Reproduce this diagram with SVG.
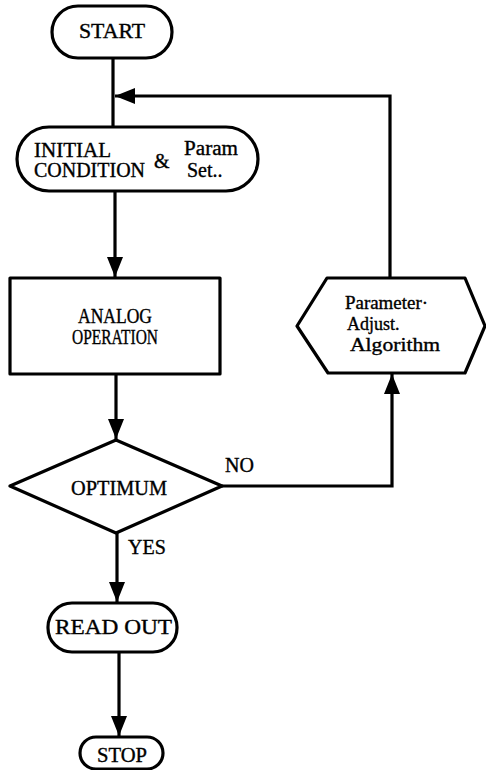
<svg xmlns="http://www.w3.org/2000/svg" width="486" height="770" viewBox="0 0 486 770">
<defs>
<marker id="ah" viewBox="0 0 20 16" refX="20" refY="8" markerWidth="20" markerHeight="16" markerUnits="userSpaceOnUse" orient="auto">
<path d="M0,0 L20,8 L0,16 Z" fill="#000"/>
</marker>
</defs>
<style>
.s{fill:#fff;stroke:#000;stroke-width:3.2;stroke-linejoin:round}
.c{fill:none;stroke:#000;stroke-width:3.2}
.t{fill:#000;font-size:20px;stroke:#000;stroke-width:0.35}
.h{font-size:18px}
.m{text-anchor:middle}
</style>
<rect width="486" height="770" fill="#fff"/>
<g id="connectors">
<line class="c" x1="113" y1="58" x2="113" y2="127"/>
<polyline class="c" points="390,278 390,96 115,96" marker-end="url(#ah)"/>
<line class="c" x1="115" y1="191" x2="115" y2="277" marker-end="url(#ah)"/>
<line class="c" x1="116" y1="374" x2="116" y2="439" marker-end="url(#ah)"/>
<polyline class="c" points="222,486 392,486 392,374" marker-end="url(#ah)"/>
<line class="c" x1="117" y1="533" x2="117" y2="602" marker-end="url(#ah)"/>
<line class="c" x1="119" y1="652" x2="119" y2="736" marker-end="url(#ah)"/>
</g>
<g font-family="Liberation Serif, DejaVu Serif, serif">
<g id="start">
<rect class="s" x="52" y="6" width="120" height="52" rx="26"/>
<text class="t m" x="112" y="38" textLength="66" lengthAdjust="spacingAndGlyphs">START</text>
</g>
<g id="init">
<rect class="s" x="17" y="127" width="241" height="64" rx="32"/>
<text class="t" x="34" y="157" textLength="77" lengthAdjust="spacingAndGlyphs">INITIAL</text>
<text class="t" x="34" y="177" textLength="111" lengthAdjust="spacingAndGlyphs">CONDITION</text>
<text class="t" x="154" y="168">&amp;</text>
<text class="t" x="184" y="155" textLength="54" lengthAdjust="spacingAndGlyphs">Param</text>
<text class="t" x="187" y="177">Set..</text>
</g>
<g id="analog">
<rect class="s" x="10" y="278" width="210" height="96"/>
<text class="t m" x="115" y="323" textLength="74" lengthAdjust="spacingAndGlyphs">ANALOG</text>
<text class="t m" x="115" y="344" textLength="86" lengthAdjust="spacingAndGlyphs">OPERATION</text>
</g>
<g id="optimum">
<polygon class="s" points="116,440 222,486 116,533 10,486"/>
<text class="t m" x="119" y="495" textLength="96" lengthAdjust="spacingAndGlyphs">OPTIMUM</text>
</g>
<g id="param">
<polygon class="s" points="327,278 465,278 485,326 465,373 328,373 297,326"/>
<text class="t h" x="345" y="309" textLength="83" lengthAdjust="spacingAndGlyphs">Parameter·</text>
<text class="t h" x="347" y="330">Adjust.</text>
<text class="t h" x="350" y="351" textLength="90" lengthAdjust="spacingAndGlyphs">Algorithm</text>
</g>
<g id="readout">
<rect class="s" x="48" y="603" width="129" height="49" rx="24"/>
<text class="t" x="55" y="634" textLength="117" lengthAdjust="spacingAndGlyphs">READ  OUT</text>
</g>
<g id="stop">
<rect class="s" x="80" y="737" width="83" height="32" rx="16"/>
<text class="t m" x="122" y="762" textLength="50" lengthAdjust="spacingAndGlyphs">STOP</text>
</g>
<g id="labels">
<text class="t" x="225" y="472">NO</text>
<text class="t" x="128" y="554">YES</text>
</g>
</g>
</svg>
